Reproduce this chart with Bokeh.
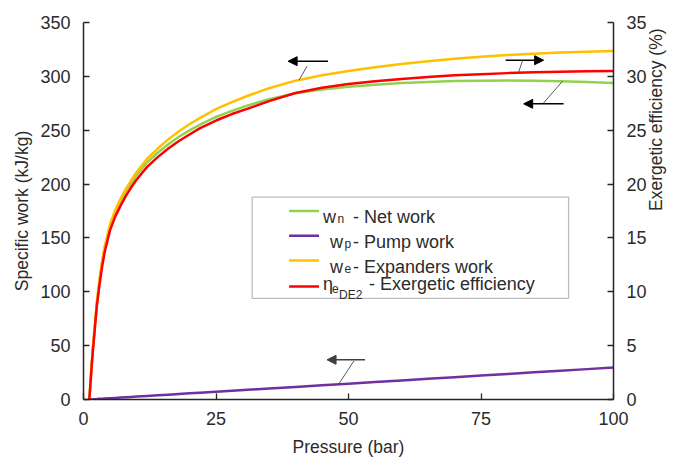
import math
from bokeh.plotting import figure
from bokeh.models import (Range1d, LinearAxis, FixedTicker, Arrow, NormalHead,
                          BoxAnnotation, Label)
from bokeh.embed import file_html
from bokeh.resources import INLINE

# Operating pressure (bar)
pressure = [1.1, 1.25, 1.5, 1.75, 2, 2.5, 3, 3.5, 4, 5, 6, 7, 8, 9, 10, 12, 14, 16,
            18, 20, 22, 25, 28, 31, 35, 40, 45, 50, 55, 60, 65, 70, 75, 80, 85, 90,
            95, 100]

# Expanders work w_e (kJ/kg)
expanders_work = [0, 11, 30, 46.5, 60.5, 89.5, 110.5, 128, 142, 162.5, 176, 186.5,
                  195.5, 203.5, 211, 223.5, 233, 241.5, 249, 255.5, 261.5, 269.5,
                  276, 282, 289, 296, 301, 305, 308.5, 311.5, 314, 316.3, 318.2,
                  319.8, 321.1, 322.1, 322.9, 323.5]

# Pump work w_p (kJ/kg)
pump_work = [0, 0.05, 0.1, 0.2, 0.3, 0.4, 0.6, 0.7, 0.9, 1.2, 1.5, 1.8, 2.1, 2.4,
             2.7, 3.3, 3.9, 4.5, 5.1, 5.7, 6.3, 7.2, 8.1, 9.0, 10.2, 11.7, 13.2,
             14.7, 16.2, 17.7, 19.2, 20.7, 22.2, 23.7, 25.2, 26.7, 28.2, 29.7]

# Net work w_n (kJ/kg)
net_work = [0, 10.9, 29.9, 46.3, 60.2, 89.1, 109.9, 127.3, 141.1, 161.3, 174.5,
            184.7, 193.4, 201.1, 208.3, 220.2, 229.1, 237.0, 243.9, 249.8, 255.2,
            262.3, 267.9, 273.0, 278.8, 284.3, 287.8, 290.3, 292.3, 293.8, 294.8,
            295.6, 296.0, 296.1, 295.9, 295.4, 294.7, 293.8]

# Exergetic efficiency (%)
efficiency = [0, 1.0, 2.8, 4.4, 5.8, 8.6, 10.6, 12.3, 13.7, 15.7, 17.0, 18.0, 18.9,
              19.7, 20.4, 21.6, 22.5, 23.3, 24.0, 24.6, 25.2, 25.9, 26.5, 27.0,
              27.7, 28.45, 28.95, 29.3, 29.55, 29.75, 29.95, 30.1, 30.2, 30.3,
              30.38, 30.43, 30.47, 30.5]

x_ticks = [0, 25, 50, 75, 100]
work_ticks = [0, 50, 100, 150, 200, 250, 300, 350]
eff_ticks = [0, 5, 10, 15, 20, 25, 30, 35]

GREEN = "#92D050"
PURPLE = "#7030A0"
ORANGE = "#FFC000"
RED = "#FF0000"
TXT = "#2b2b2b"
FONT = "Liberation Sans"

W, H = 678, 459
FL, FR, FT, FB = 83, 614, 22, 402

p = figure(width=W, height=H, output_backend="svg", toolbar_location=None,
           x_range=Range1d(0, 100), y_range=Range1d(0, 350),
           min_border_left=FL, min_border_right=W - FR,
           min_border_top=FT, min_border_bottom=H - FB)
p.extra_y_ranges = {"eff": Range1d(0, 35)}
p.outline_line_color = None
p.xgrid.visible = False
p.ygrid.visible = False
p.background_fill_color = "white"
p.border_fill_color = "white"


def style_axis(ax, ticks):
    ax.ticker = FixedTicker(ticks=ticks)
    ax.minor_tick_line_color = None
    ax.major_tick_in = 6
    ax.major_tick_out = 0
    ax.axis_line_color = "#262626"
    ax.axis_line_width = 1.5
    ax.major_tick_line_color = "#262626"
    ax.major_tick_line_width = 1.3
    ax.major_label_text_font = FONT
    ax.major_label_text_font_size = "18px"
    ax.major_label_text_color = TXT
    ax.axis_label_text_font = FONT
    ax.axis_label_text_font_size = "17.5px"
    ax.axis_label_text_font_style = "normal"
    ax.axis_label_text_color = TXT


xax = p.xaxis[0]
style_axis(xax, x_ticks)
xax.axis_label = "Pressure (bar)"
xax.major_label_standoff = 12
xax.axis_label_standoff = 9

yax = p.yaxis[0]
style_axis(yax, work_ticks)
yax.axis_label = "Specific work (kJ/kg)"
yax.major_label_standoff = 13
yax.axis_label_standoff = 5

rax = LinearAxis(y_range_name="eff")
style_axis(rax, eff_ticks)
rax.major_label_standoff = 13
rax.axis_label = "Exergetic efficiency (%)"
rax.axis_label_standoff = 6
# the right-hand title reads upwards, like the left one
rax.axis_label_orientation = math.pi / 2
p.add_layout(rax, "right")

# Curves
p.line(pressure, net_work, line_color=GREEN, line_width=2.5, line_join="round")
p.line(pressure, pump_work, line_color=PURPLE, line_width=2.5, line_join="round")
p.line(pressure, expanders_work, line_color=ORANGE, line_width=2.5, line_join="round")
p.line(pressure, efficiency, line_color=RED, line_width=2.5, line_join="round",
       y_range_name="eff")


def to_data(xp, yp):
    """Screen position inside the frame -> (pressure, work) coordinates."""
    return ((xp - FL) / (FR - FL) * 100.0, (FB - yp) / (FB - FT) * 350.0)


# Callout arrows with leader lines
callouts = [
    # arrow tail, arrow head, leader start, leader end, colour
    ((328, 61), (288, 61), (307, 66), (299, 80), "black"),
    ((506, 60), (544, 60), (523, 60), (519, 72), "black"),
    ((564, 104), (524, 104), (544, 103), (563, 81), "black"),
    ((365, 362), (327, 362), (354, 363), (339, 386), "#404040"),
]
for tail, head, l0, l1, col in callouts:
    x0, y0 = to_data(*tail)
    x1, y1 = to_data(*head)
    p.add_layout(Arrow(end=NormalHead(size=9, fill_color=col, line_color=col),
                       x_start=x0, y_start=y0, x_end=x1, y_end=y1,
                       line_color=col, line_width=1.5))
    a0, b0 = to_data(*l0)
    a1, b1 = to_data(*l1)
    p.segment(x0=[a0], y0=[b0], x1=[a1], y1=[b1], line_color="#595959",
              line_width=1)

# Legend box
bx0, by0 = to_data(252, 300)
bx1, by1 = to_data(569, 198)
p.add_layout(BoxAnnotation(left=bx0, right=bx1, bottom=by0, top=by1,
                           fill_color="white", fill_alpha=1.0,
                           line_color="#262626", line_width=1.3, level="overlay"))

legend_rows = [
    # key colour, key y, pieces: (text, x, baseline, size)
    (GREEN, 212, [("w", 323, 218.5, "18px"), ("n", 337.5, 220, "12px"),
                  ("- Net work", 353, 218.5, "18px")]),
    (PURPLE, 237, [("w", 330, 243.5, "18px"), ("p", 344.5, 245, "12px"),
                   ("- Pump work", 353, 243.5, "18px")]),
    (ORANGE, 262, [("w", 330, 268.5, "18px"), ("e", 344.5, 270, "12px"),
                   ("- Expanders work", 353, 268.5, "18px")]),
    (RED, 288, [("\u03b7", 323, 285.5, "18px"), ("e", 332, 290, "12px"),
                ("DE2", 339, 297, "12px"),
                ("- Exergetic efficiency", 369, 285.5, "18px")]),
]
for col, ky, pieces in legend_rows:
    kx0, kyy = to_data(289, ky)
    kx1, _ = to_data(319, ky)
    p.add_layout(Arrow(end=None, x_start=kx0, y_start=kyy, x_end=kx1, y_end=kyy,
                       line_color=col, line_width=2.5, level="overlay"))
    for txt, tx, tb, size in pieces:
        lx, ly = to_data(tx, tb)
        p.add_layout(Label(x=lx, y=ly, text=txt, text_font=FONT,
                           text_font_size=size, text_color=TXT,
                           text_align="left", text_baseline="alphabetic",
                           level="overlay"))

open("out.html", "w").write(file_html(p, INLINE))
